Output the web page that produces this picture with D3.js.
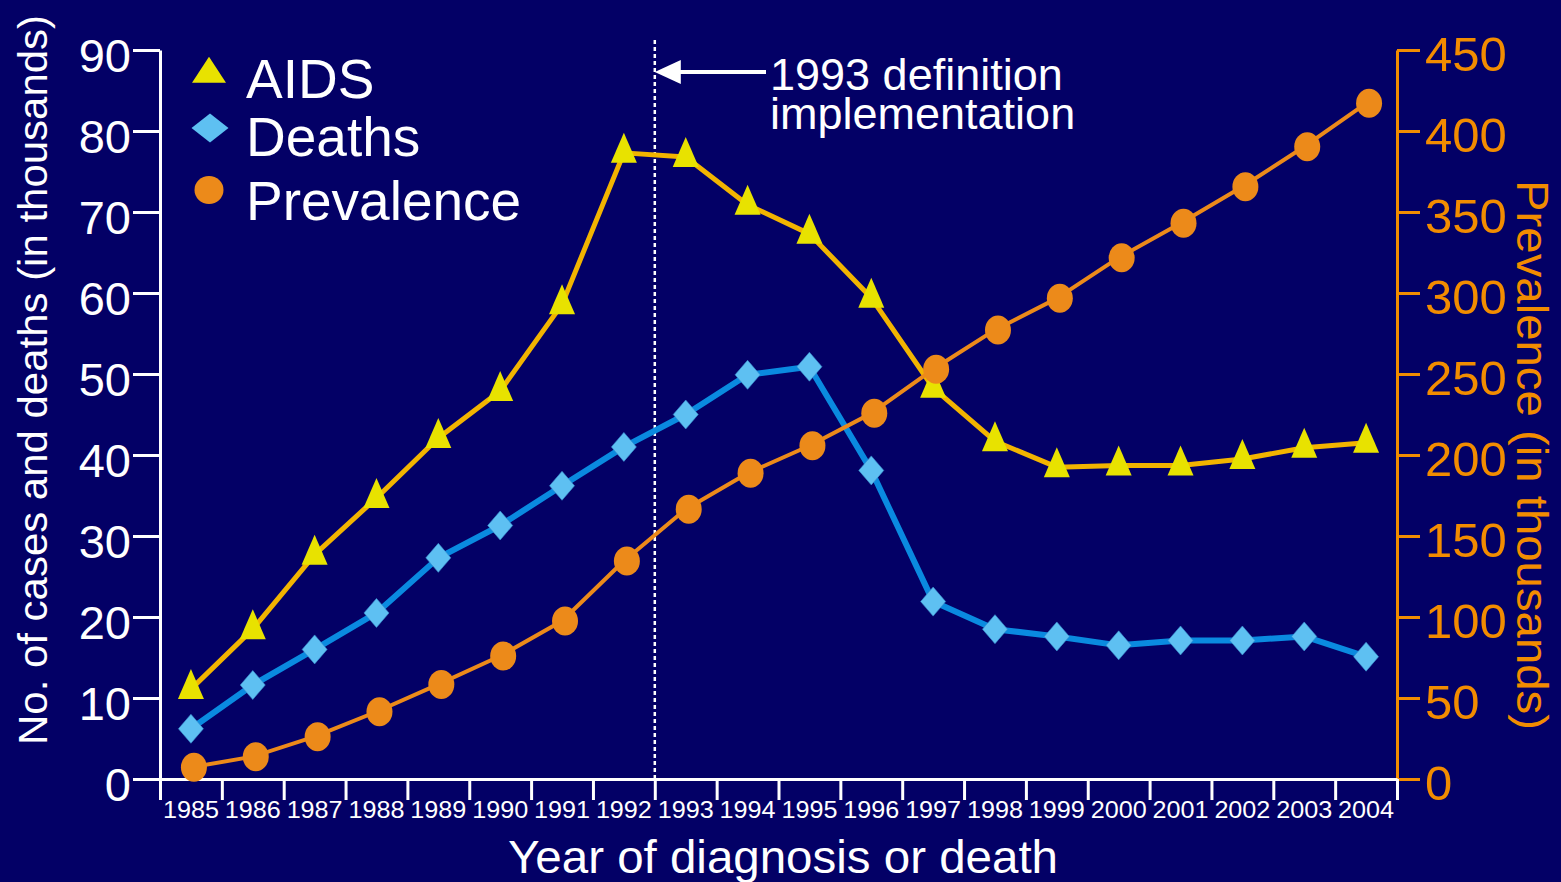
<!DOCTYPE html>
<html>
<head>
<meta charset="utf-8">
<script src="https://cdn.jsdelivr.net/npm/d3@7"></script>
<style>
  html, body { margin: 0; padding: 0; background: #030066; }
  svg { display: block; }
  text { font-family: "Liberation Sans", Arial, sans-serif; }
</style>
</head>
<body>
<svg id="chart" width="1561" height="882"></svg>
<script>
const years = [1985,1986,1987,1988,1989,1990,1991,1992,1993,1994,1995,1996,1997,1998,1999,2000,2001,2002,2003,2004];
const aids = [11.1,18.5,27.7,34.7,42.1,47.9,58.6,77.3,76.8,70.9,67.3,59.4,48.3,41.7,38.5,38.7,38.7,39.5,40.9,41.5];
const deaths = [6.2,11.6,16.0,20.5,27.3,31.3,36.2,41.0,45.0,49.9,50.9,38.1,21.9,18.5,17.6,16.5,17.1,17.1,17.6,15.1];
const prevalence = [7.2,13.8,26.1,41.5,58.4,75.9,97.5,134.6,166.5,188.7,205.7,225.7,252.9,277.2,296.7,321.8,343.0,365.6,390.3,417.1];
const leftTicks = [0,10,20,30,40,50,60,70,80,90];
const rightTicks = [0,50,100,150,200,250,300,350,400,450];
const legendLabels = ["AIDS","Deaths","Prevalence"];
const annotationYear = 1993;
const annotationLines = ["1993 definition","implementation"];

const C = {
  bg: "#030066", white: "#ffffff",
  aidsLine: "#f2b400", aidsMark: "#e8e200",
  deathLine: "#0a8ae0", deathMark: "#5ec0f2",
  prev: "#ec8a1a", rightAxis: "#f28c00"
};

const svg = d3.select("#chart");
svg.append("rect").attr("width",1561).attr("height",882).attr("fill",C.bg);

const L = 160, R = 1397, T = 50, B = 779;
const x = d3.scaleBand().domain(years).range([L, R]);
const xEdge = d3.scaleLinear().domain([years[0], years[years.length-1]+1]).range([L, R]);
const yL = d3.scaleLinear().domain([0, 90]).range([B, T]);
const yR = d3.scaleLinear().domain([0, 450]).range([B, T]);
const cx = d => x(d) + x.bandwidth()/2;

// Left axis
const gL = svg.append("g").attr("transform", `translate(${L},0)`)
  .call(d3.axisLeft(yL).tickValues(leftTicks).tickSize(27).tickSizeOuter(0).tickPadding(2));
gL.selectAll("path,line").attr("stroke", C.white).attr("stroke-width", 3);
gL.selectAll("text").attr("fill", C.white).attr("font-size", 47)
  .attr("font-family", '"Liberation Sans", Arial, sans-serif')
  .attr("dy", "0.45em");

// Right axis
const gR = svg.append("g").attr("transform", `translate(${R},0)`)
  .call(d3.axisRight(yR).tickValues(rightTicks).tickSize(23).tickSizeOuter(0).tickPadding(5));
gR.selectAll("path,line").attr("stroke", C.rightAxis).attr("stroke-width", 3);
gR.selectAll("text").attr("fill", C.rightAxis).attr("font-size", 49)
  .attr("font-family", '"Liberation Sans", Arial, sans-serif')
  .attr("dy", "0.42em");

// Bottom axis: boundary ticks
const gB = svg.append("g").attr("transform", `translate(0,${B})`)
  .call(d3.axisBottom(xEdge).tickValues(d3.range(years[0], years[years.length-1]+2)).tickSize(21).tickSizeOuter(0).tickFormat(""));
gB.selectAll("path,line").attr("stroke", C.white).attr("stroke-width", 3);
// year labels at band centres
const gB2 = svg.append("g").attr("transform", `translate(0,${B})`)
  .call(d3.axisBottom(x).tickSize(0).tickPadding(22.7));
gB2.select("path").remove();
gB2.selectAll("text").attr("fill", C.white).attr("font-size", 23)
  .attr("font-family", '"Liberation Sans", Arial, sans-serif')
  .attr("textLength", 56).attr("lengthAdjust", "spacingAndGlyphs");

// Axis titles
svg.append("text").attr("transform", "translate(47,380) rotate(-90)")
  .attr("text-anchor","middle").attr("fill", C.white).attr("font-size", 40)
  .attr("textLength", 730).attr("lengthAdjust","spacingAndGlyphs")
  .text("No. of cases and deaths (in thousands)");
svg.append("text").attr("transform", "translate(1517,455) rotate(90)")
  .attr("text-anchor","middle").attr("fill", C.rightAxis).attr("font-size", 44)
  .attr("textLength", 550).attr("lengthAdjust","spacingAndGlyphs")
  .text("Prevalence (in thousands)");
svg.append("text").attr("x", 783).attr("y", 873)
  .attr("text-anchor","middle").attr("fill", C.white).attr("font-size", 47)
  .attr("textLength", 550).attr("lengthAdjust","spacingAndGlyphs")
  .text("Year of diagnosis or death");

// Annotation
const ax = xEdge(annotationYear);
svg.append("line").attr("x1", ax).attr("x2", ax).attr("y1", 40).attr("y2", B)
  .attr("stroke", C.white).attr("stroke-width", 2.5).attr("stroke-dasharray", "4,3");
svg.append("line").attr("x1", 766).attr("x2", ax + 20).attr("y1", 72).attr("y2", 72)
  .attr("stroke", C.white).attr("stroke-width", 4);
svg.append("path").attr("d", `M${ax},72 L${ax+26},60 L${ax+26},84 Z`).attr("fill", C.white);
const ann = svg.append("text").attr("x", 770).attr("y", 90).attr("fill", C.white).attr("font-size", 45);
annotationLines.forEach((t,i) => {
  ann.append("tspan").attr("x", 770).attr("dy", i === 0 ? 0 : 39).text(t);
});

// Marker shapes
const tri = (w,h) => `M0,${-2*h/3} L${w/2},${h/3} L${-w/2},${h/3} Z`;
const dia = (w,h) => `M0,${-h/2} L${w/2},0 L0,${h/2} L${-w/2},0 Z`;

const line = (yScale) => d3.line().x((d,i) => cx(years[i])).y(d => yScale(d));

// Deaths
svg.append("path").datum(deaths).attr("d", line(yL)).attr("fill","none")
  .attr("stroke", C.deathLine).attr("stroke-width", 6).attr("stroke-linejoin","round");
svg.append("g").selectAll("path").data(deaths).join("path")
  .attr("transform",(d,i)=>`translate(${cx(years[i])},${yL(d)})`)
  .attr("d", dia(25,29)).attr("fill", C.deathMark).attr("stroke","#3a8fd0").attr("stroke-width",0.6);

// AIDS
svg.append("path").datum(aids).attr("d", line(yL)).attr("fill","none")
  .attr("stroke", C.aidsLine).attr("stroke-width", 5).attr("stroke-linejoin","round");
svg.append("g").selectAll("path").data(aids).join("path")
  .attr("transform",(d,i)=>`translate(${cx(years[i])},${yL(d)})`)
  .attr("d", tri(26,30)).attr("fill", C.aidsMark);

// Prevalence
svg.append("path").datum(prevalence).attr("d", line(yR)).attr("fill","none")
  .attr("stroke", C.prev).attr("stroke-width", 4).attr("stroke-linejoin","round");
svg.append("g").selectAll("ellipse").data(prevalence).join("ellipse")
  .attr("cx",(d,i)=>cx(years[i])+3).attr("cy", d => yR(d))
  .attr("rx", 13).attr("ry", 14.5).attr("fill", C.prev);

// Legend
const lg = svg.append("g");
lg.append("path").attr("transform","translate(209,74)").attr("d", tri(34,26)).attr("fill", C.aidsMark);
lg.append("path").attr("transform","translate(210,128)").attr("d", dia(37,29)).attr("fill", C.deathMark);
lg.append("ellipse").attr("cx",209).attr("cy",190).attr("rx",14.5).attr("ry",14).attr("fill", C.prev);
const lgY = [98,156,220];
legendLabels.forEach((t,i) => {
  lg.append("text").attr("x", 246).attr("y", lgY[i]).attr("fill", C.white)
    .attr("font-size", 55).text(t);
});
</script>
</body>
</html>
